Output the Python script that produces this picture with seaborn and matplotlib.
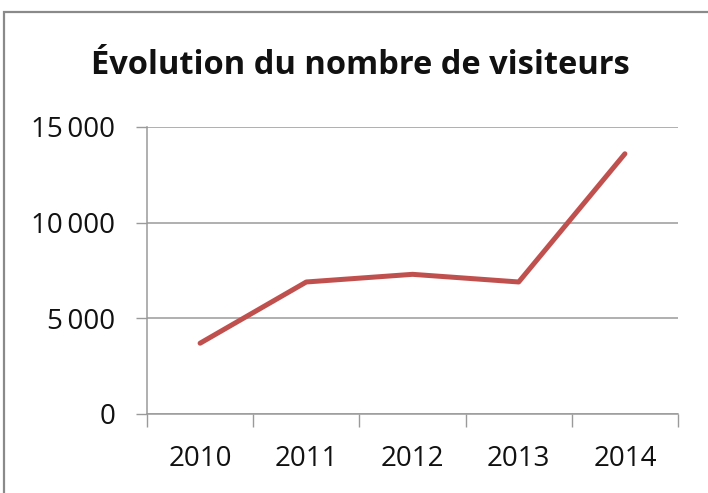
import matplotlib
matplotlib.use("Agg")
import matplotlib.pyplot as plt
import seaborn as sns
import pandas as pd
from matplotlib.patches import Rectangle
from matplotlib.ticker import FuncFormatter, FixedLocator

years = ["2010", "2011", "2012", "2013", "2014"]
visitors = [3700, 6900, 7300, 6900, 13600]
y_ticks = [0, 5000, 10000, 15000]
title = "Évolution du nombre de visiteurs"

sns.set_theme(style="white")
plt.rcParams['font.family'] = ['Open Sans', 'DejaVu Sans']

df = pd.DataFrame({"year": years, "visitors": visitors})

fig = plt.figure(figsize=(7.08, 4.93), dpi=100)
ax = fig.add_axes([147/708, 1-414/493, (678-147)/708, (414-127)/493])

sns.lineplot(data=df, x="year", y="visitors", ax=ax, color="#C0504D",
             linewidth=3.6, solid_capstyle="round", solid_joinstyle="round")

ax.set_xlim(-0.5, len(years) - 0.5)
ax.set_ylim(0, 15000)
ax.set_yticks(y_ticks)
ax.yaxis.set_major_formatter(FuncFormatter(lambda v, p: f"{int(v):,}".replace(",", "\u2009")))
ax.grid(axis="y", color="#9a9a9a", linewidth=1.1)
ax.set_axisbelow(True)

ax.xaxis.set_major_locator(FixedLocator([i - 0.5 for i in range(len(years) + 1)]))
ax.xaxis.set_minor_locator(FixedLocator(list(range(len(years)))))
ax.set_xticklabels([""] * (len(years) + 1))
ax.set_xticklabels(years, minor=True)
ax.tick_params(axis="x", which="major", length=9, width=1, color="#9a9a9a", direction="out", bottom=True)
ax.tick_params(axis="x", which="minor", length=0, labelsize=20, pad=22.5, colors="#111111", bottom=True)
ax.tick_params(axis="y", length=8, width=1, color="#9a9a9a", direction="out", labelsize=20, pad=15, left=True, labelcolor="#111111")

for s in ["top", "right"]:
    ax.spines[s].set_visible(False)
for s in ["left", "bottom"]:
    ax.spines[s].set_color("#9a9a9a")
    ax.spines[s].set_linewidth(1.1)

ax.set_xlabel("")
ax.set_ylabel("")

fig.text(360/708, 1-74/493, title, ha="center", va="baseline", fontsize=23.5, fontweight="bold", color="#111111")

fig.patches.append(Rectangle((4/708, -0.1), 1.2, 1-12/493+0.1, transform=fig.transFigure,
                             fill=False, edgecolor="#8a8a8a", linewidth=1.6))

fig.savefig("out.png", dpi=100)
